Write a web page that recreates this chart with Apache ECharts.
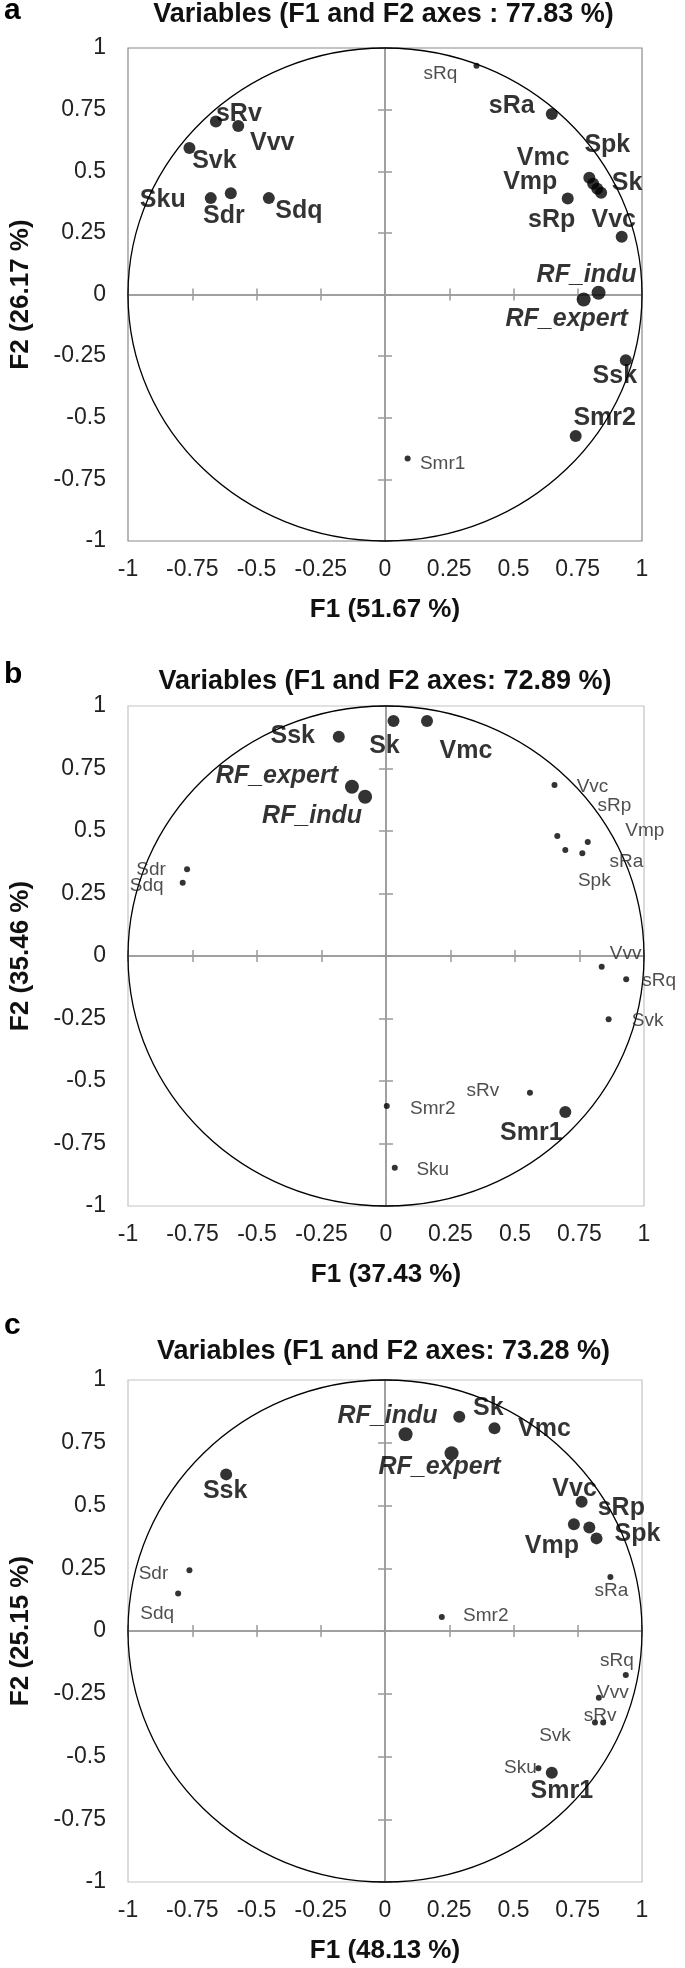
<!DOCTYPE html>
<html><head><meta charset="utf-8">
<script src="https://cdn.jsdelivr.net/npm/echarts@6/dist/echarts.min.js"></script>
<style>html,body{margin:0;padding:0;background:#fff}#c{width:685px;height:1968px}</style>
</head><body><div id="c"></div>
<script>
// ---------------- DATA ----------------
const axisMin = -1, axisMax = 1, tickStep = 0.25;
const circleRadius = 1;
const panelLetters = ['a', 'b', 'c'];
const panelTitles = [
  'Variables (F1 and F2 axes : 77.83 %)',
  'Variables (F1 and F2 axes: 72.89 %)',
  'Variables (F1 and F2 axes: 73.28 %)'
];
const f1Titles = ['F1 (51.67 %)', 'F1 (37.43 %)', 'F1 (48.13 %)'];
const f2Titles = ['F2 (26.17 %)', 'F2 (35.46 %)', 'F2 (25.15 %)'];

// Panel a
const aNames = ['sRq','sRa','sRv','Vvv','Svk','Sku','Sdr','Sdq','Spk','Vmc','Vmp','Sk','sRp','Vvc','RF_indu','RF_expert','Ssk','Smr2','Smr1'];
const aF1 = [0.356,0.649,-0.658,-0.571,-0.761,-0.678,-0.600,-0.452,0.795,0.810,0.826,0.841,0.711,0.921,0.831,0.773,0.937,0.742,0.088];
const aF2 = [0.928,0.732,0.702,0.684,0.594,0.391,0.411,0.391,0.474,0.449,0.429,0.413,0.389,0.234,0.007,-0.020,-0.267,-0.574,-0.665];
const aMajor = ['sRa','sRv','Vvv','Svk','Sku','Sdr','Sdq','Spk','Vmc','Vmp','Sk','sRp','Vvc','RF_indu','RF_expert','Ssk','Smr2'];

// Panel b
const bNames = ['Sk','Vmc','Ssk','RF_expert','RF_indu','Sdr','Sdq','Vvc','sRp','Vmp','sRa','Spk','Vvv','sRq','Svk','sRv','Smr2','Smr1','Sku'];
const bF1 = [0.029,0.159,-0.183,-0.132,-0.081,-0.771,-0.788,0.653,0.664,0.782,0.761,0.695,0.836,0.931,0.863,0.558,0.003,0.695,0.034];
const bF2 = [0.940,0.940,0.877,0.677,0.637,0.347,0.293,0.684,0.480,0.456,0.411,0.424,-0.043,-0.093,-0.253,-0.547,-0.600,-0.624,-0.847];
const bMajor = ['Sk','Vmc','Ssk','RF_expert','RF_indu','Smr1'];

// Panel c
const cNames = ['RF_indu','Sk','Vmc','RF_expert','Ssk','Vvc','Vmp','sRp','Spk','sRa','Sdr','Sdq','Smr2','sRq','Vvv','Svk','sRv','Sku','Smr1'];
const cF1 = [0.080,0.289,0.426,0.259,-0.618,0.765,0.735,0.795,0.823,0.877,-0.761,-0.805,0.221,0.937,0.832,0.817,0.849,0.597,0.649];
const cF2 = [0.784,0.854,0.808,0.708,0.624,0.515,0.425,0.412,0.369,0.215,0.242,0.149,0.056,-0.175,-0.266,-0.365,-0.365,-0.547,-0.565];
const cMajor = ['RF_indu','Sk','Vmc','RF_expert','Ssk','Vvc','Vmp','sRp','Spk','Smr1'];

// ---------------- LAYOUT / STYLE ----------------
const FONT = '"Liberation Sans", Arial, sans-serif';
const labelOffsets = [
  {sRq:[-36,8],sRa:[-40,-8],sRv:[23,-7],Vvv:[34,17],Svk:[25,13],Sku:[-48,2],Sdr:[-7,23],Sdq:[30,13],Spk:[18,-33],Vmc:[-50,-26],Vmp:[-67,-7],Sk:[26,-10],sRp:[-16,21],Vvc:[-8,-17],RF_indu:[-12,-18],RF_expert:[-17,20],Ssk:[-11,16],Smr2:[29,-18],Smr1:[35,5]},
  {Sk:[-9,25],Vmc:[39,30],Ssk:[-46,-1],RF_expert:[-75,-11],RF_indu:[-53,19],Sdr:[-36,1],Sdq:[-36,3],Vvc:[38,2],sRp:[57,-30],Vmp:[57,-11],sRa:[44,9],Spk:[29,31],Vvv:[24,-13],sRq:[33,2],Svk:[39,2],sRv:[-47,-2],Smr2:[46,3],Smr1:[-34,21],Sku:[38,2]},
  {RF_indu:[-18,-18],Sk:[29,-9],Vmc:[50,1],RF_expert:[-12,14],Ssk:[-1,17],Vvc:[-7,-13],Vmp:[-22,22],sRp:[32,-19],Spk:[41,-4],sRa:[1,14],Sdr:[-36,4],Sdq:[-21,20],Smr2:[44,-1],sRq:[-9,-14],Vvv:[14,-5],Svk:[-40,13],sRv:[-3,-7],Sku:[-18,-1],Smr1:[10,18]}
];
const grids = [
  {left:125, top:48, width:517, height:493, borderColor:'#8a8a8a'},
  {left:126, top:706, width:518, height:500, borderColor:'#c4c4c4'},
  {left:125, top:1380, width:517, height:502, borderColor:'#c4c4c4'}
];
const titleY = [15, 682, 1352];
const letterY = [11, 675, 1326];

const panels = [
  {names:aNames, f1:aF1, f2:aF2, major:aMajor},
  {names:bNames, f1:bF1, f2:bF2, major:bMajor},
  {names:cNames, f1:cF1, f2:cF2, major:cMajor}
];

const chart = echarts.init(document.getElementById('c'), null, {renderer:'canvas'});

const xAxes = [], yAxes = [], series = [], graphics = [];
panels.forEach((p, g) => {
  const base = {gridIndex:g, type:'value', min:axisMin, max:axisMax, interval:tickStep, splitLine:{show:false}};
  const zeroLine = {show:true, onZero:true, lineStyle:{color:'#9a9a9a', width:1.5}};
  const tickStyle = {color:'#9a9a9a', width:1.5};
  // edge label axes
  xAxes.push(Object.assign({}, base, {
    position:'bottom', axisLine:{show:false, onZero:false}, axisTick:{show:false},
    axisLabel:{fontSize:23, color:'#222', margin:17, fontFamily:FONT},
    name:f1Titles[g], nameLocation:'middle', nameGap:56,
    nameTextStyle:{fontSize:26, fontWeight:'bold', color:'#111', fontFamily:FONT}
  }));
  xAxes.push(Object.assign({}, base, {position:'bottom', axisLine:zeroLine, axisTick:{show:true, length:6, lineStyle:tickStyle}, axisLabel:{show:false}}));
  xAxes.push(Object.assign({}, base, {position:'bottom', axisLine:zeroLine, axisTick:{show:true, inside:true, length:6, lineStyle:tickStyle}, axisLabel:{show:false}}));
  yAxes.push(Object.assign({}, base, {
    position:'left', axisLine:{show:false, onZero:false}, axisTick:{show:false},
    axisLabel:{fontSize:23, color:'#222', margin:22, fontFamily:FONT},
    name:f2Titles[g], nameLocation:'middle', nameGap:94,
    nameTextStyle:{fontSize:26, fontWeight:'bold', color:'#111', fontFamily:FONT}
  }));
  yAxes.push(Object.assign({}, base, {position:'left', axisLine:zeroLine, axisTick:{show:true, length:7, lineStyle:tickStyle}, axisLabel:{show:false}}));
  yAxes.push(Object.assign({}, base, {position:'left', axisLine:zeroLine, axisTick:{show:true, inside:true, length:7, lineStyle:tickStyle}, axisLabel:{show:false}}));

  // correlation circle
  series.push({
    type:'custom', xAxisIndex:3*g, yAxisIndex:3*g, clip:false, silent:true, z:1,
    data:[[0, 0, circleRadius]],
    renderItem:(params, api) => {
      const c = api.coord([api.value(0), api.value(1)]);
      const s = api.size([api.value(2), api.value(2)]);
      return {type:'ellipse', shape:{cx:c[0], cy:c[1], rx:s[0], ry:s[1]},
        style:{fill:'none', stroke:'#000', lineWidth:1.3}};
    }
  });

  // variables
  const data = p.names.map((n, i) => {
    const major = p.major.indexOf(n) >= 0;
    const rf = n.indexOf('RF_') === 0;
    const off = labelOffsets[g][n] || [0, 0];
    return {
      name:n, value:[p.f1[i], p.f2[i]],
      symbolSize: major ? (rf ? 14 : 12) : 6,
      label:{
        show:true, formatter:'{b}', position:'inside', offset:off,
        align:'center', verticalAlign:'middle',
        fontSize: major ? 25 : 19,
        fontWeight: major ? 'bold' : 'normal',
        fontStyle: rf ? 'italic' : 'normal',
        color: major ? '#000' : '#222', fontFamily:FONT
      }
    };
  });
  series.push({
    type:'scatter', xAxisIndex:3*g, yAxisIndex:3*g, silent:true, z:3,
    symbol:'circle', itemStyle:{color:'#000'}, data:data, animation:false
  });

  graphics.push({type:'text', x:grids[g].left + grids[g].width/2, y:titleY[g], silent:true,
    style:{text:panelTitles[g], fill:'#111', font:'bold 27px ' + FONT,
      align:'center', verticalAlign:'middle', textAlign:'center', textVerticalAlign:'middle'}});
  graphics.push({type:'text', x:4, y:letterY[g], silent:true,
    style:{text:panelLetters[g], fill:'#000', font:'bold 30px ' + FONT,
      align:'left', verticalAlign:'middle', textAlign:'left', textVerticalAlign:'middle'}});
});

chart.setOption({
  animation:false,
  backgroundColor:'#fff',
  grid: grids.map(gd => ({left:gd.left, top:gd.top, width:gd.width, height:gd.height, show:true,
    borderColor:gd.borderColor, borderWidth:1.2, backgroundColor:'transparent', containLabel:false})),
  xAxis:xAxes, yAxis:yAxes, series:series, graphic:graphics
});
</script></body></html>
